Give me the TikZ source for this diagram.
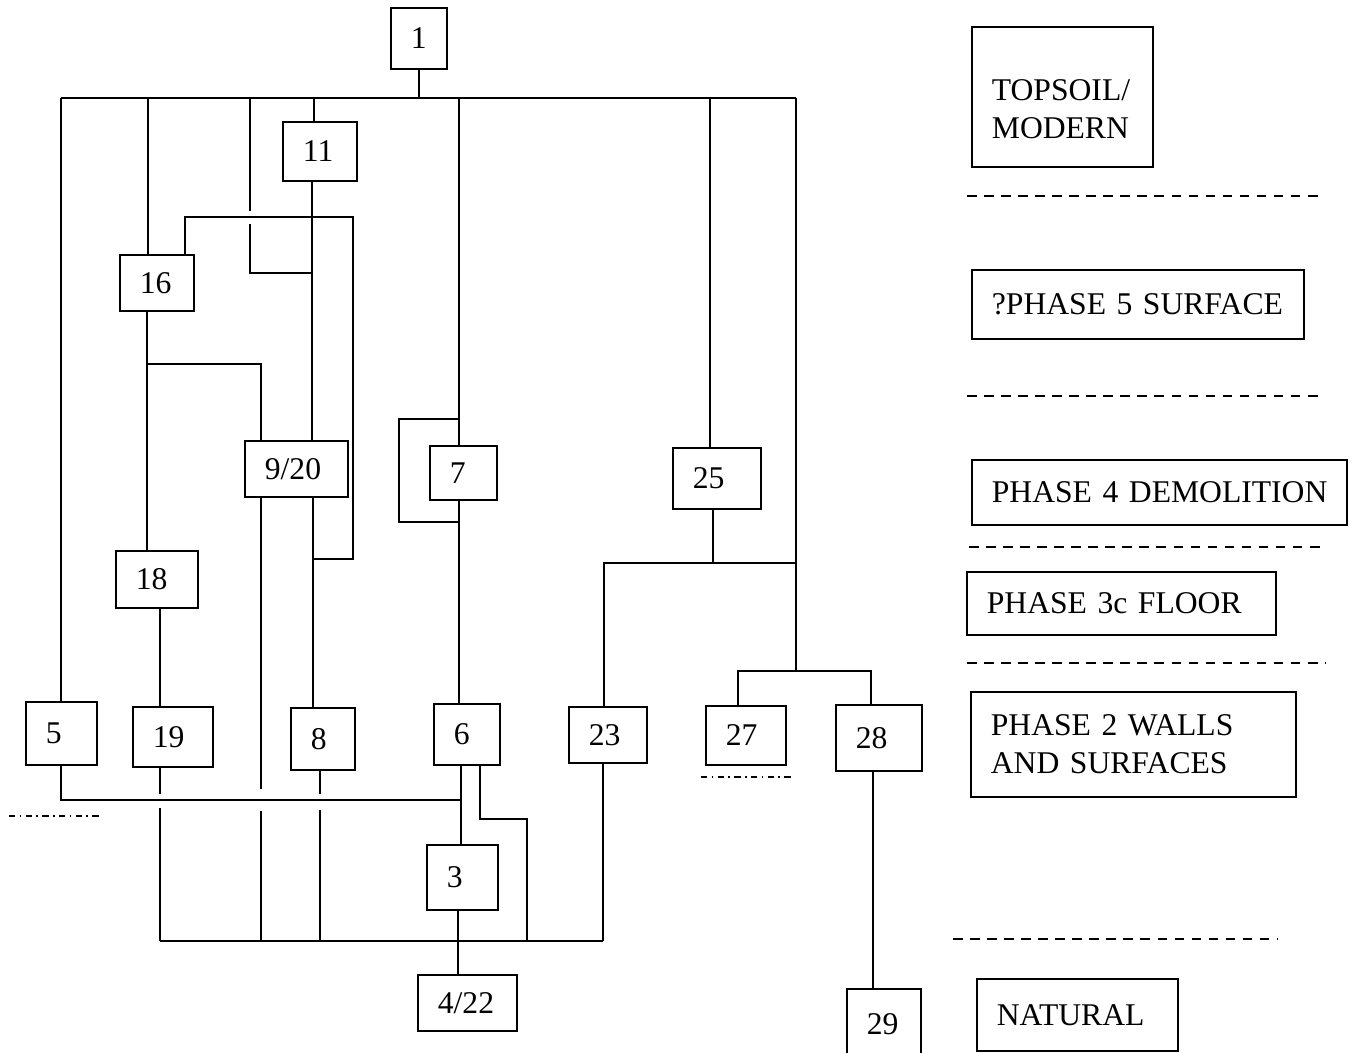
\documentclass[tikz,border=0pt]{standalone}
\usepackage{fontspec}
\setmainfont{Liberation Serif}
\tikzset{
  ctx/.style={draw, line width=1pt, anchor=north west, inner xsep=0.4cm, inner ysep=0pt,
    align=left, font=\fontsize{18}{21.5}\selectfont},
  link/.style={line width=1pt},
  phase line/.style={line width=0.8pt, dash pattern=on 5.5pt off 4.2pt},
  break line/.style={line width=0.8pt, dash pattern=on 3.5pt off 2.5pt on 1pt off 2.5pt},
}

\begin{document}
\begin{tikzpicture}[x=0.02cm, y=-0.02cm]
    \useasboundingbox (0,0) rectangle (1352,1053);

    % Contexts
    \node[ctx, text width=0.32cm, minimum height=1.22cm] (c1) at (390,7) {1};
    \node[ctx, text width=0.68cm, minimum height=1.18cm] (c11) at (282,121) {11};
    \node[ctx, text width=0.68cm, minimum height=1.12cm] (c16) at (119,254) {16};
    \node[ctx, text width=1.26cm, minimum height=1.12cm] (c920) at (244,440) {9/20};
    \node[ctx, text width=0.54cm, minimum height=1.08cm] (c7) at (429,445) {7};
    \node[ctx, text width=0.96cm, minimum height=1.22cm] (c25) at (672,447) {25};
    \node[ctx, text width=0.84cm, minimum height=1.14cm] (c18) at (115,550) {18};
    \node[ctx, text width=0.62cm, minimum height=1.26cm] (c5) at (25,701) {5};
    \node[ctx, text width=0.80cm, minimum height=1.20cm] (c19) at (132,706) {19};
    \node[ctx, text width=0.48cm, minimum height=1.24cm] (c8) at (290,707) {8};
    \node[ctx, text width=0.52cm, minimum height=1.22cm] (c6) at (433,703) {6};
    \node[ctx, text width=0.76cm, minimum height=1.12cm] (c23) at (568,706) {23};
    \node[ctx, text width=0.80cm, minimum height=1.18cm] (c27) at (705,705) {27};
    \node[ctx, text width=0.92cm, minimum height=1.32cm] (c28) at (835,704) {28};
    \node[ctx, text width=0.62cm, minimum height=1.30cm] (c3) at (426,844) {3};
    \node[ctx, text width=1.18cm, minimum height=1.12cm] (c422) at (417,974) {4/22};
    \node[ctx, text width=0.68cm, minimum height=1.40cm] (c29) at (846,988) {29};

    % Phases
    \node[ctx, text width=2.82cm, minimum height=2.80cm] (topsoil) at (971,26) {\rule{0pt}{26pt}\mbox{TOPSOIL/}\\MODERN};
    \node[ctx, text width=5.84cm, minimum height=1.38cm] (phase5) at (971,269) {\mbox{?PHASE 5 SURFACE}};
    \node[ctx, text width=6.70cm, minimum height=1.30cm] (phase4) at (971,459) {\mbox{PHASE 4 DEMOLITION}};
    \node[ctx, text width=5.38cm, minimum height=1.26cm] (phase3) at (966,571) {\mbox{PHASE 3c FLOOR}};
    \node[ctx, text width=5.70cm, minimum height=2.10cm] (phase2) at (970,691) {\mbox{PHASE 2 WALLS}\\\mbox{AND SURFACES}};
    \node[ctx, text width=3.22cm, minimum height=1.44cm] (natural) at (976,978) {\mbox{NATURAL}};

    \draw[phase line] (967,196) -- (1322,196);
    \draw[phase line] (967,396) -- (1318,396);
    \draw[phase line] (969,547) -- (1322,547);
    \draw[phase line] (967,663) -- (1325,663);
    \draw[phase line] (953,939) -- (1277,939);
    \draw[break line] (9,816) -- (100,816);
    \draw[break line] (701,777) -- (791,777);

    % Junctions
    \coordinate (t5) at (61,98);
    \coordinate (t16) at (148,98);
    \coordinate (t9) at (250,98);
    \coordinate (t11) at (314,98);
    \coordinate (t7) at (459,98);
    \coordinate (t25) at (710,98);
    \coordinate (t28) at (796,98);
    \coordinate (j9) at (312,273);
    \coordinate (h16) at (185,217);
    \coordinate (h8) at (353,217);
    \coordinate (j8) at (313,559);
    \coordinate (j16) at (147,364);
    \coordinate (k9) at (261,364);
    \coordinate (j7) at (459,419);
    \coordinate (q7) at (399,522);
    \coordinate (h5) at (61,800);
    \coordinate (h6) at (461,800);
    \coordinate (j6) at (480,819);
    \coordinate (k19) at (160,941);
    \coordinate (k920) at (261,941);
    \coordinate (k8) at (320,941);
    \coordinate (k3) at (458,941);
    \coordinate (k6) at (527,941);
    \coordinate (k23) at (603,941);
    \coordinate (j23) at (604,563);
    \coordinate (j25) at (713,563);
    \coordinate (j28) at (796,563);
    \coordinate (h27) at (738,671);
    \coordinate (h28) at (871,671);
    \coordinate (k29) at (873,988);

    % Top bar
    \draw[link] (t5) -- (t28);
    \draw[link] (c1.south) -- (c1.south |- t5);
    \draw[link] (t5) -- (t5 |- c5.north);
    \draw[link] (t16) -- (t16 |- c16.north);
    \draw[link] (t11) -- (t11 |- c11.north);
    \draw[link] (t9) -- +(0,113) (t9) ++(0,126) |- (j9);
    \draw[link] (t7) -- (t7 |- c7.north);
    \draw[link] (t25) -- (t25 |- c25.north);
    \draw[link] (t28) -- (t28 |- h27);

    % Left group
    \draw[link] (j9 |- c11.south) -- (j9 |- c920.north);
    \draw[link] (h16 |- c16.north) -- (h16) -- (h8) |- (j8);
    \draw[link] (j8 |- c920.south) -- (j8 |- c8.north);
    \draw[link] (j16 |- c16.south) -- (j16 |- c18.north);
    \draw[link] (j16) -- (k9) -- (k9 |- c920.north);
    \draw[link] (k19 |- c18.south) -- (k19 |- c19.north);
    \draw[link] (h5 |- c5.south) -- (h5) -- (h6);
    \draw[link] (k19 |- c19.south) -- ++(0,26) (k19) -- ++(0,-133);
    \draw[link] (k920 |- c920.south) -- ++(0,291) (k920) -- ++(0,-130);
    \draw[link] (k8 |- c8.south) -- ++(0,23) (k8) -- ++(0,-131);

    % 7, 6, 3
    \draw[link] (j7) -| (q7) -- (q7 -| t7);
    \draw[link] (t7 |- c7.south) -- (t7 |- c6.north);
    \draw[link] (h6 |- c6.south) -- (h6 |- c3.north);
    \draw[link] (j6 |- c6.south) -- (j6) -| (k6);
    \draw[link] (k3 |- c3.south) -- (k3 |- c422.north);
    \draw[link] (k19) -- (k23);

    % Right group
    \draw[link] (k23 |- c23.south) -- (k23);
    \draw[link] (j23 |- c23.north) -- (j23) -- (j28);
    \draw[link] (j25 |- c25.south) -- (j25);
    \draw[link] (h27 |- c27.north) -- (h27) -- (h28) -- (h28 |- c28.north);
    \draw[link] (k29 |- c28.south) -- (k29 |- c29.north);
\end{tikzpicture}
\end{document}
